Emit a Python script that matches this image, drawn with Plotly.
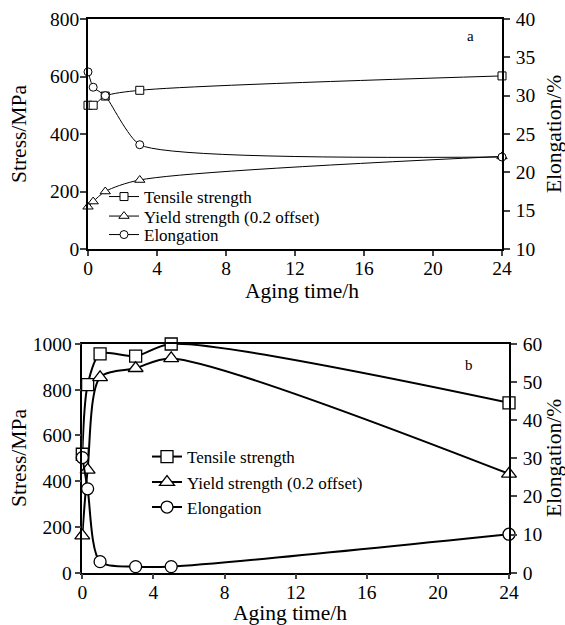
import plotly.graph_objects as go

# ---- data ----
time_a = [0, 0.3, 1, 3, 24]
tensile_a = [500, 500, 532, 552, 602]
yield_a = [147, 165, 200, 240, 322]
elong_a = [33.1, 31.1, 30.0, 23.6, 22.0]

time_b = [0, 0.3, 1, 3, 5, 24]
tensile_b = [518, 822, 957, 947, 1000, 743]
yield_b = [162, 450, 854, 894, 937, 432]
elong_b = [30.2, 22.0, 2.9, 1.6, 1.6, 10.1]

x_ticks = [0, 4, 8, 12, 16, 20, 24]
W, H = 565, 625
FONT = "Times New Roman, Liberation Serif, serif"


def px(x):
    return x / W


def py(y):
    return 1 - y / H


fig = go.Figure()

# top chart (a)
sym = dict(color="white", line=dict(color="black", width=1))
fig.add_trace(go.Scatter(x=time_a, y=tensile_a, mode="lines+markers", name="Tensile strength",
                         line=dict(color="black", width=1, shape="spline", smoothing=0.8),
                         marker=dict(symbol="square", size=8, **sym), xaxis="x", yaxis="y",
                         cliponaxis=False, legend="legend"))
fig.add_trace(go.Scatter(x=time_a, y=yield_a, mode="lines+markers", name="Yield strength (0.2 offset)",
                         line=dict(color="black", width=1, shape="spline", smoothing=0.8),
                         marker=dict(symbol="triangle-up", size=9, **sym), xaxis="x", yaxis="y",
                         cliponaxis=False, legend="legend2"))
fig.add_trace(go.Scatter(x=time_a, y=elong_a, mode="lines+markers", name="Elongation",
                         line=dict(color="black", width=1, shape="spline", smoothing=0.5),
                         marker=dict(symbol="circle", size=8, **sym), xaxis="x", yaxis="y2",
                         cliponaxis=False, legend="legend3"))

# bottom chart (b)
sym2 = dict(color="white", line=dict(color="black", width=1.3))
fig.add_trace(go.Scatter(x=time_b, y=tensile_b, mode="lines+markers", name="Tensile strength",
                         line=dict(color="black", width=2, shape="spline", smoothing=0.8),
                         marker=dict(symbol="square", size=12, **sym2), xaxis="x3", yaxis="y3",
                         cliponaxis=False, legend="legend4"))
fig.add_trace(go.Scatter(x=time_b, y=yield_b, mode="lines+markers", name="Yield strength (0.2 offset)",
                         line=dict(color="black", width=2, shape="spline", smoothing=0.8),
                         marker=dict(symbol="triangle-up", size=13, **sym2), xaxis="x3", yaxis="y3",
                         cliponaxis=False, legend="legend5"))
fig.add_trace(go.Scatter(x=time_b, y=elong_b, mode="lines+markers", name="Elongation",
                         line=dict(color="black", width=2, shape="spline", smoothing=0.8),
                         marker=dict(symbol="circle", size=12, **sym2), xaxis="x3", yaxis="y4",
                         cliponaxis=False, legend="legend6"))

tickfont = dict(family=FONT, size=19.5, color="black")
common_x = dict(range=[0, 24], tickvals=x_ticks, ticks="outside", ticklen=5, tickwidth=1.5,
                showline=True, linecolor="black", linewidth=1.5, mirror=True, showgrid=False,
                zeroline=False, tickfont=tickfont, automargin=False, ticklabelstandoff=-4)
common_y = dict(ticks="outside", ticklen=6, tickwidth=1.5, showline=True, linecolor="black",
                linewidth=1.5, showgrid=False, zeroline=False, tickfont=tickfont, automargin=False)

xa = [px(88), px(502)]
ya = [py(249), py(19)]
xb = [px(82.3), px(509)]
yb = [py(572.7), py(344)]


def leg(xpix, ypix):
    return dict(x=px(xpix), y=py(ypix), xanchor="left", yanchor="middle",
                font=dict(family=FONT, size=17, color="black"), bgcolor="rgba(0,0,0,0)",
                itemwidth=30, borderwidth=0)


fig.update_layout(
    template="none",
    width=W, height=H, margin=dict(l=0, r=0, t=0, b=0, autoexpand=False),
    paper_bgcolor="white", plot_bgcolor="white",
    font=dict(family=FONT, size=17, color="black"),
    xaxis=dict(domain=xa, anchor="y", **common_x),
    yaxis=dict(domain=ya, anchor="x", range=[0, 800], tickvals=[0, 200, 400, 600, 800],
               ticklabelstandoff=-3, **common_y),
    yaxis2=dict(overlaying="y", side="right", anchor="x", range=[10, 40],
                tickvals=[10, 15, 20, 25, 30, 35, 40], ticklabelstandoff=2, **common_y),
    xaxis3=dict(domain=xb, anchor="y3", **common_x),
    yaxis3=dict(domain=yb, anchor="x3", range=[0, 1000], tickvals=[0, 200, 400, 600, 800, 1000],
                ticklabelstandoff=-1, **common_y),
    yaxis4=dict(overlaying="y3", side="right", anchor="x3", range=[0, 60],
                tickvals=[0, 10, 20, 30, 40, 50, 60], ticklabelstandoff=2, **common_y),
    legend=leg(104, 197),
    legend2=leg(104, 216.5),
    legend3=leg(104, 235),
    legend4=leg(147, 457),
    legend5=leg(147, 482.5),
    legend6=leg(147, 507.5),
    showlegend=True,
)

title_font = dict(family=FONT, size=21.5, color="black")
ann = [
    dict(text="Aging time/h", x=px(302), y=py(291), xanchor="center", yanchor="middle"),
    dict(text="Stress/MPa", x=px(19), y=py(134), textangle=-90, xanchor="center", yanchor="middle"),
    dict(text="Elongation/%", x=px(554), y=py(134), textangle=-90, xanchor="center", yanchor="middle"),
    dict(text="Aging time/h", x=px(290), y=py(613), xanchor="center", yanchor="middle"),
    dict(text="Stress/MPa", x=px(19), y=py(458), textangle=-90, xanchor="center", yanchor="middle"),
    dict(text="Elongation/%", x=px(554), y=py(458), textangle=-90, xanchor="center", yanchor="middle"),
]
for a in ann:
    fig.add_annotation(xref="paper", yref="paper", showarrow=False, font=title_font, **a)
fig.add_annotation(text="a", xref="paper", yref="paper", x=px(470), y=py(36), showarrow=False,
                   xanchor="center", yanchor="middle", font=dict(family=FONT, size=15, color="black"))
fig.add_annotation(text="b", xref="paper", yref="paper", x=px(469), y=py(365), showarrow=False,
                   xanchor="center", yanchor="middle", font=dict(family=FONT, size=15, color="black"))

fig.write_html("out.html")
